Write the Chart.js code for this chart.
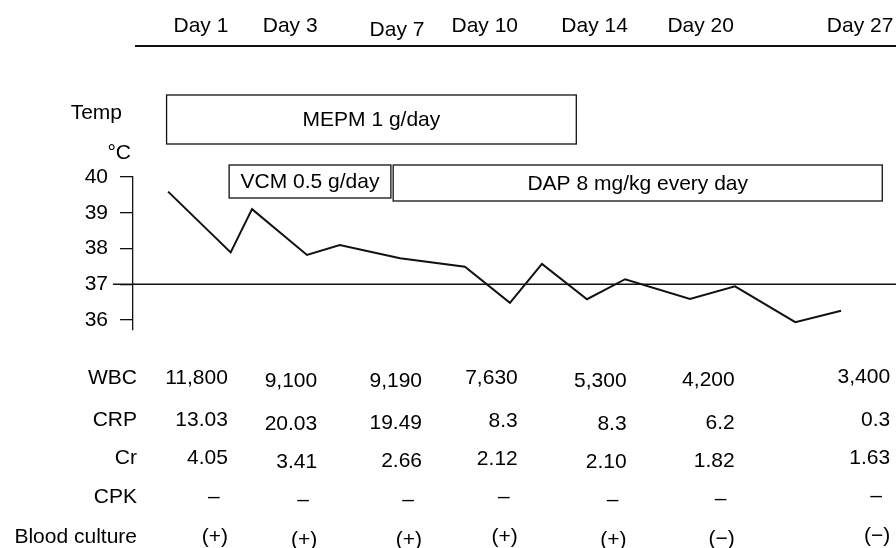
<!DOCTYPE html>
<html lang="en">
<head>
<meta charset="UTF-8">
<title>Clinical course</title>
<script src="https://cdn.jsdelivr.net/npm/chart.js"></script>
<style>
  html, body { margin: 0; padding: 0; background: #fff; }
  canvas { display: block; }
</style>
</head>
<body>
<canvas id="curso" width="896" height="548"></canvas>
<script>
// the timeline runs 0..100 across the plot width
const dayLabels = ['Day 1', 'Day 3', 'Day 7', 'Day 10', 'Day 14', 'Day 20', 'Day 27'];
const dayPos = [8.9, 20.6, 34.6, 46.1, 60.5, 74.4, 95.3];

const tempPos = [4.6, 12.8, 15.6, 22.8, 27.1, 35.0, 43.5, 49.4, 53.6, 59.5, 64.5, 73.0, 78.9, 86.8, 92.8];
const tempVals = [39.59, 37.89, 39.1, 37.82, 38.1, 37.73, 37.49, 36.48, 37.57, 36.58, 37.14, 36.59, 36.94, 35.94, 36.26];
const tempTicks = [36, 37, 38, 39, 40];
const normalTemp = 37;

const drugNames = ['MEPM 1 g/day', 'VCM 0.5 g/day', 'DAP 8 mg/kg every day'];
const drugStart = [4.4, 12.6, 34.1];
const drugEnd = [58.1, 33.8, 98.2];

const rowLabels = ['WBC', 'CRP', 'Cr', 'CPK', 'Blood culture'];
const wbc = ['11,800', '9,100', '9,190', '7,630', '5,300', '4,200', '3,400'];
const crp = ['13.03', '20.03', '19.49', '8.3', '8.3', '6.2', '0.3'];
const cr = ['4.05', '3.41', '2.66', '2.12', '2.10', '1.82', '1.63'];
const cpk = ['–', '–', '–', '–', '–', '–', '–'];
const culture = ['(+)', '(+)', '(+)', '(+)', '(+)', '(−)', '(−)'];

// layout (pixels)
const FAMILY = '"Liberation Sans", Arial, sans-serif';
const FONT = '21px ' + FAMILY;
const headerY = 26;
const headerNudge = [0, 0, 4, 0, 0, 0, 0];
const ruleY = 46;
const drugBoxY = [[95, 144], [165, 198], [165, 201]];
const rowY = [378, 420.5, 458.5, 497, 537];
const colRight = [27, 27, 25, 33, 32, 34, 30];
const colNudge = [0, 3.5, 3, 0.5, 3.5, 2.5, -0.5];

const timelinePlugin = {
    id: 'timeline',
    afterDraw(chart) {
        const { ctx, scales: { x, y } } = chart;
        ctx.save();
        ctx.fillStyle = '#000';
        ctx.strokeStyle = '#111';
        ctx.font = FONT;
        ctx.textBaseline = 'middle';

        // day header and rule
        ctx.textAlign = 'center';
        dayLabels.forEach((d, i) => {
            ctx.fillText(d, x.getPixelForValue(dayPos[i]), headerY + headerNudge[i]);
        });
        ctx.lineWidth = 2;
        ctx.beginPath();
        ctx.moveTo(135, ruleY);
        ctx.lineTo(chart.width, ruleY);
        ctx.stroke();

        // axis title
        ctx.textAlign = 'right';
        ctx.fillText('Temp', 122, 113);
        ctx.fillText('°C', 131, 153);

        // 37 degree line
        const yn = y.getPixelForValue(normalTemp);
        ctx.lineWidth = 1.3;
        ctx.beginPath();
        ctx.moveTo(113, yn);
        ctx.lineTo(chart.width, yn);
        ctx.stroke();

        // drug boxes
        drugNames.forEach((name, i) => {
            const l = x.getPixelForValue(drugStart[i]);
            const r = x.getPixelForValue(drugEnd[i]);
            const [t, b] = drugBoxY[i];
            ctx.strokeRect(l, t, r - l, b - t);
            ctx.textAlign = 'center';
            ctx.fillText(name, (l + r) / 2, (t + b) / 2 + 1);
        });

        // lab table
        ctx.textAlign = 'right';
        rowLabels.forEach((lab, r) => ctx.fillText(lab, 137, rowY[r]));
        const rows = [wbc, crp, cr, cpk, culture];
        rows.forEach((vals, r) => {
            vals.forEach((v, c) => {
                const right = x.getPixelForValue(dayPos[c]) + colRight[c];
                const yy = rowY[r] + colNudge[c];
                if (v === '–') {
                    ctx.textAlign = 'center';
                    ctx.fillText(v, right - 14, yy);
                } else {
                    ctx.textAlign = 'right';
                    ctx.fillText(v, right, yy);
                }
            });
        });
        ctx.restore();
    }
};

new Chart(document.getElementById('curso'), {
    type: 'line',
    data: {
        datasets: [{
            data: tempPos.map((p, i) => ({ x: p, y: tempVals[i] })),
            borderColor: '#111',
            borderWidth: 2,
            pointRadius: 0,
            tension: 0,
            fill: false
        }]
    },
    options: {
        responsive: false,
        animation: false,
        layout: { padding: { top: 177, bottom: 218, left: 0, right: 0 } },
        plugins: { legend: { display: false }, tooltip: { enabled: false } },
        scales: {
            x: { type: 'linear', min: 0, max: 100, display: false },
            y: {
                min: 35.72,
                max: 40,
                afterFit(s) { s.width = 133; },
                afterBuildTicks(s) { s.ticks = tempTicks.map(v => ({ value: v })); },
                grid: { drawOnChartArea: false, drawTicks: true, tickLength: 13, color: '#111', lineWidth: 1.3 },
                border: { display: true, color: '#111', width: 1.3 },
                ticks: { color: '#000', padding: 12, font: { family: FAMILY, size: 21 } }
            }
        }
    },
    plugins: [timelinePlugin]
});
</script>
</body>
</html>
